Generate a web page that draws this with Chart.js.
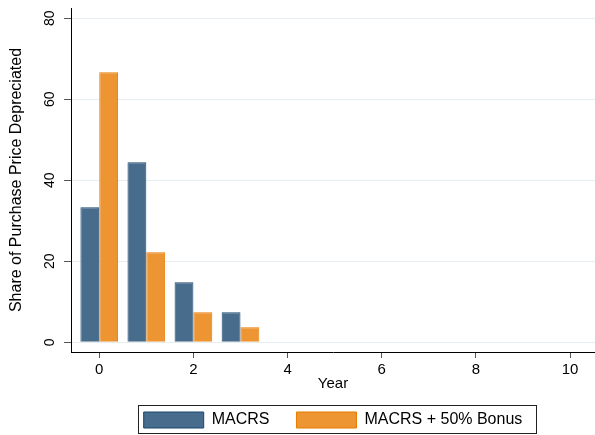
<!DOCTYPE html>
<html lang="en">
<head>
  <meta charset="UTF-8" />
  <title>MACRS vs bonus depreciation</title>
  <script src="https://cdn.jsdelivr.net/npm/chart.js"></script>
  <style>
    body { margin: 0; background: #ffffff; }
    canvas { display: block; }
  </style>
</head>
<body>
  <canvas id="chart" width="595" height="435"></canvas>
  <script>
    // values (3-year MACRS, half-year convention)
    const years = [0, 1, 2, 3];
    const macrsShare = [33.33, 44.45, 14.81, 7.41];
    const bonusShare = [66.67, 22.22, 7.41, 3.70];
    const seriesNames = ['MACRS', 'MACRS + 50% Bonus'];
    const yTicks = [0, 20, 40, 60, 80];
    const xTicks = [0, 2, 4, 6, 8, 10];
    const yTitle = 'Share of Purchase Price Depreciated';
    const xTitle = 'Year';

    const FONT = '"Liberation Sans", Arial, Helvetica, sans-serif';
    const LEGEND_PAD = 27;
    const LEGEND_BOX_H = 16;
    // legend height as Chart.js fits it: item height + padding + 10
    const LEGEND_H = LEGEND_BOX_H + LEGEND_PAD + 10;
    const PLOT_BOTTOM = 352;

    // axis titles, rotated y labels and the box round the legend
    const framePlugin = {
      id: 'frame',
      afterLayout(chart) {
        const lg = chart.legend;
        lg.left = chart.chartArea.left;
        lg.right = chart.chartArea.right;
        lg.width = lg.right - lg.left;
        lg.top += 3;
        lg.bottom += 3;
      },
      afterDraw(chart) {
        const c = chart.ctx;
        const xs = chart.scales.x;
        const ys = chart.scales.y;
        c.save();
        c.fillStyle = '#000';
        c.textAlign = 'center';
        c.textBaseline = 'middle';

        c.font = '14px ' + FONT;
        yTicks.forEach(v => {
          c.save();
          c.translate(50, ys.getPixelForValue(v));
          c.rotate(-Math.PI / 2);
          c.fillText(String(v), 0, 0);
          c.restore();
        });

        c.font = '16px ' + FONT;
        c.save();
        c.translate(17, (ys.top + ys.bottom) / 2);
        c.rotate(-Math.PI / 2);
        c.fillText(yTitle, 0, 0);
        c.restore();

        c.font = '15px ' + FONT;
        c.fillText(xTitle, (xs.left + xs.right) / 2, 384);

        const hb = chart.legend.legendHitBoxes;
        if (hb && hb.length) {
          const first = hb[0];
          const last = hb[hb.length - 1];
          const l = Math.round(first.left - 6) + 0.5;
          const r = Math.round(last.left + last.width + 14) + 0.5;
          const t = Math.round(first.top - 7) + 0.5;
          const b = t + 28;
          c.strokeStyle = '#222';
          c.lineWidth = 1;
          c.strokeRect(l, t, r - l, b - t);
        }
        c.restore();
      }
    };

    const ctx = document.getElementById('chart').getContext('2d');
    new Chart(ctx, {
      type: 'bar',
      data: {
        datasets: [
          {
            label: seriesNames[0],
            data: years.map((x, i) => ({ x: x, y: macrsShare[i] })),
            backgroundColor: '#486c8c',
            borderColor: '#1a476f',
            borderWidth: 1
          },
          {
            label: seriesNames[1],
            data: years.map((x, i) => ({ x: x, y: bonusShare[i] })),
            backgroundColor: '#ed9533',
            borderColor: '#e87b00',
            borderWidth: 1
          }
        ]
      },
      options: {
        responsive: false,
        animation: false,
        layout: { padding: { top: 8, right: 0, bottom: 0, left: 0 } },
        datasets: { bar: { barPercentage: 1, categoryPercentage: 0.8 } },
        scales: {
          x: {
            type: 'linear',
            min: -0.6,
            max: 10.53,
            offset: false,
            afterBuildTicks: axis => { axis.ticks = xTicks.map(v => ({ value: v })); },
            afterFit: scale => { scale.height = 435 - PLOT_BOTTOM - LEGEND_H; },
            grid: { drawOnChartArea: false, offset: false, tickLength: 6, tickColor: '#555' },
            border: { color: '#000', width: 1 },
            ticks: { color: '#000', padding: 3, font: { family: FONT, size: 15 } }
          },
          y: {
            min: -2.4,
            max: 82.5,
            afterBuildTicks: axis => { axis.ticks = yTicks.map(v => ({ value: v })); },
            afterFit: scale => { scale.width = 71; },
            grid: { color: '#e6eef1', tickLength: 7, tickColor: '#555' },
            border: { color: '#000', width: 1 },
            ticks: { display: false }
          }
        },
        plugins: {
          legend: {
            position: 'bottom',
            labels: {
              boxWidth: 60,
              boxHeight: LEGEND_BOX_H,
              padding: LEGEND_PAD,
              color: '#000',
              font: { family: FONT, size: 16 }
            }
          },
          tooltip: { enabled: false }
        }
      },
      plugins: [framePlugin]
    });
  </script>
</body>
</html>
